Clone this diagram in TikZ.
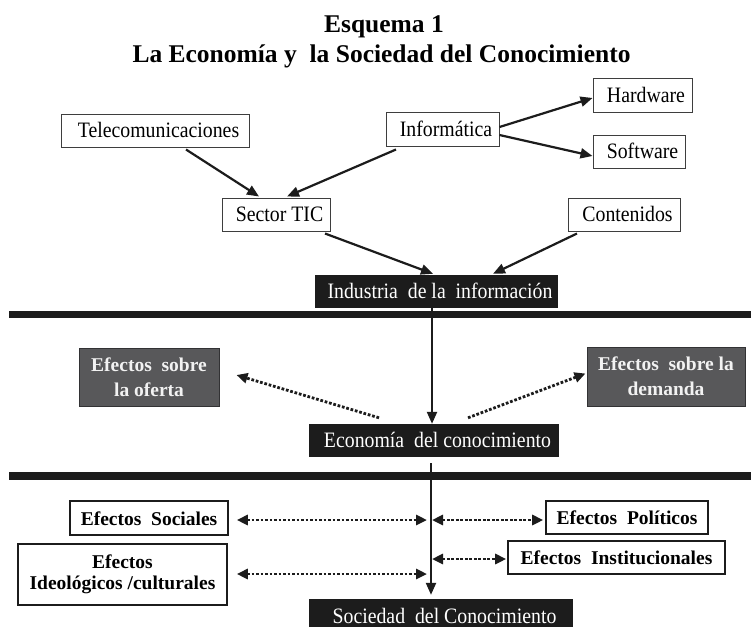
\documentclass[tikz,border=0pt]{standalone}
\usepackage{fontspec}
\setmainfont{Liberation Serif}
\newfontfamily\regfont{Liberation Serif}[FakeStretch=0.9]
\usetikzlibrary{arrows.meta,calc}
\definecolor{gfill}{RGB}{88,88,90}
\definecolor{gline}{RGB}{50,50,52}
\definecolor{ink}{RGB}{28,28,28}
\begin{document}
\begin{tikzpicture}[x=1pt,y=-1pt,
  box/.style={draw=ink!85, line width=1pt, fill=white, inner sep=0pt,
    font=\regfont\fontsize{22}{26}\selectfont, text height=14.6pt, text depth=0pt,
    execute at begin node={\hspace*{7pt}}},
  blk/.style={fill=ink, text=white, inner sep=0pt,
    font=\regfont\fontsize{22}{26}\selectfont, text height=14.6pt, text depth=0pt,
    execute at begin node={\hspace*{7pt}}},
  gbox/.style={fill=gfill, draw=gline, line width=1pt, text=white!95!black,
    inner sep=0pt, align=center, font=\bfseries\fontsize{19.5}{25}\selectfont},
  bbox/.style={draw=ink, line width=1.6pt, fill=white, inner sep=0pt,
    font=\bfseries\fontsize{19.5}{24}\selectfont, text height=14pt, text depth=0pt},
  bbox2/.style={draw=ink, line width=1.6pt, fill=white, inner sep=0pt, align=center,
    font=\bfseries\fontsize{19.5}{21}\selectfont},
  ttl/.style={font=\bfseries\fontsize{25.5}{30}\selectfont, anchor=base, inner sep=0pt},
  arr/.style={-{Triangle[length=12pt,width=10pt]}, line width=2.2pt, draw=ink},
  darr/.style={-{Triangle[length=11pt,width=10pt]}, line width=2.8pt, draw=ink,
    dash pattern=on 2.7pt off 1.8pt},
  ddarr/.style={{Triangle[length=11pt,width=10pt]}-{Triangle[length=11pt,width=10pt]},
    line width=2.8pt, draw=ink, dash pattern=on 2.7pt off 1.8pt}
]
\useasboundingbox (0,0) rectangle (751,627);
\fill[white] (0,0) rectangle (751,627);

% title
\node[ttl] (t1) at (384,32) {Esquema 1};
\node[ttl] (t2) at (381.5,62) {La Economía y\ \ la Sociedad del Conocimiento};

% upper boxes
\node[box, minimum width=188pt, minimum height=33pt] (tele) at (155,130.5) {Telecomunicaciones};
\node[box, minimum width=113pt, minimum height=34pt] (info) at (442.5,129) {Informática};
\node[box, minimum width=99pt, minimum height=34pt] (hard) at (642.5,95) {Hardware};
\node[box, minimum width=92pt, minimum height=33pt] (soft) at (639,151.5) {Software};
\node[box, minimum width=108pt, minimum height=33pt] (sector) at (276,214.5) {Sector TIC};
\node[box, minimum width=112pt, minimum height=33pt] (cont) at (624,214.5) {Contenidos};
\node[blk, minimum width=243pt, minimum height=33pt] (ind) at (436.5,291.5) {Industria\ \ de la\ \ información};

% separators
\fill[ink] (9,311) rectangle (751,318);
\fill[ink] (9,472) rectangle (751,480);

% middle
\node[gbox, minimum width=140pt, minimum height=58pt] (ofe) at (149,377) {Efectos\ \ sobre\\la oferta};
\node[gbox, minimum width=158pt, minimum height=59pt] (dem) at (666,376.5) {Efectos\ \ sobre la\\demanda};
\node[blk, minimum width=250pt, minimum height=33pt] (eco) at (434,440.5) {Economía\ \ del conocimiento};

% lower
\node[bbox, minimum width=158pt, minimum height=34pt] (socl) at (149,518) {Efectos\ \ Sociales};
\node[bbox, minimum width=162pt, minimum height=33pt] (pol) at (627,517.5) {Efectos\ \ Políticos};
\node[bbox, minimum width=217pt, minimum height=33pt] (inst) at (616.5,557.5) {Efectos\ \ Institucionales};
\node[bbox2, minimum width=209pt, minimum height=61pt] (ideo) at (122.5,574.5) {Efectos\\Ideológicos /culturales};
\node[blk, minimum width=264pt, minimum height=28pt, text height=21pt] (soc) at (441,613) {Sociedad\ \ del Conocimiento};

% connectors
\draw[arr] ($(tele.south)+(31,2)$) -- ($(sector.north)+(-17,-1)$);
\draw[arr] ($(info.south)+(-46.5,3)$) -- ($(sector.north)+(11,-1)$);
\draw[arr] ($(info.east)+(0,-2)$) -- ($(hard.west)+(0,3)$);
\draw[arr] ($(info.east)+(0,6)$) -- ($(soft.west)+(0,4.5)$);
\draw[arr] ($(sector.south)+(49,2)$) -- ($(ind.north)+(-3.5,-1)$);
\draw[arr] ($(cont.south)+(-47,2)$) -- ($(ind.north)+(56.5,-1)$);
\draw[arr] ($(ind.south)+(-4.5,0)$) -- ($(eco.north)+(-2,0)$);
\draw[arr] ($(eco.south)+(-3,6)$) -- ($(soc.north)+(-10,-4)$);

\draw[darr] ($(eco.north)+(-55,-6)$) -- ($(ofe.east)+(17,-2)$);
\draw[darr] ($(eco.north)+(34,-6)$) -- ($(dem.west)+(-1,-3)$);

\coordinate (jl1) at (427,520);
\coordinate (jr1) at (432,520);
\coordinate (jr2) at (432,559);
\coordinate (jl2) at (427,574);
\draw[ddarr] ($(socl.east)+(8,2)$) -- (jl1);
\draw[ddarr] (jr1) -- ($(pol.west)+(-2,2.5)$);
\draw[ddarr] (jr2) -- ($(inst.west)+(-1,1.5)$);
\draw[ddarr] ($(ideo.east)+(9,-0.5)$) -- (jl2);
\end{tikzpicture}
\end{document}
